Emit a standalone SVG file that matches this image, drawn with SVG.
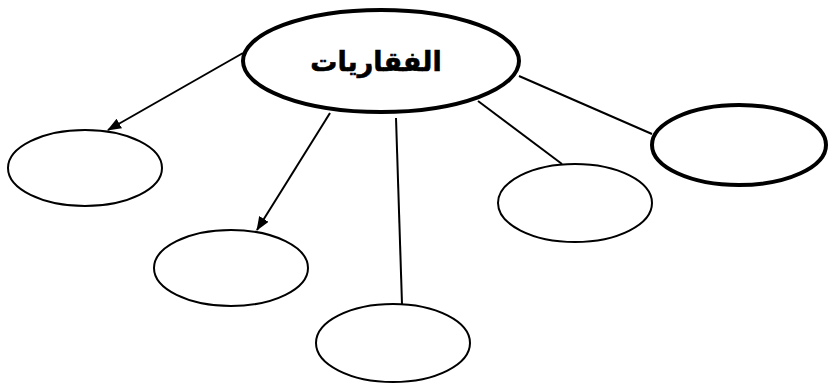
<svg xmlns="http://www.w3.org/2000/svg" width="829" height="383" viewBox="0 0 829 383">
<style>
.thin{fill:#fff;stroke:#000;stroke-width:2}
.thick{fill:#fff;stroke:#000;stroke-width:4}
.con{stroke:#000;stroke-width:2;fill:none}
.lbl{font-family:"DejaVu Sans","Noto Sans",sans-serif;font-weight:bold;font-size:27px;text-anchor:middle;stroke:#000;stroke-width:0.6}
</style>
<defs>
<marker id="arr" viewBox="0 0 14 11" refX="13" refY="5.5" markerWidth="14" markerHeight="11" markerUnits="userSpaceOnUse" orient="auto">
<path d="M0,0 L14,5.5 L0,11 Z" fill="#000"/>
</marker>
</defs>
<g id="connectors">
<line class="con" x1="243" y1="53" x2="108" y2="130" marker-end="url(#arr)"/>
<line class="con" x1="330" y1="113" x2="257" y2="230" marker-end="url(#arr)"/>
<line class="con" x1="396" y1="118" x2="402" y2="304"/>
<line class="con" x1="478" y1="101" x2="562" y2="164"/>
<line class="con" x1="519" y1="76" x2="652" y2="134"/>
</g>
<g id="main">
<ellipse class="thick" cx="381" cy="61" rx="138" ry="51"/>
<text class="lbl" x="376" y="71" direction="rtl">الفقاريات</text>
</g>
<g id="n1"><ellipse class="thin" cx="85" cy="168" rx="77" ry="38"/></g>
<g id="n2"><ellipse class="thin" cx="231" cy="268" rx="77" ry="38"/></g>
<g id="n3"><ellipse class="thin" cx="393" cy="343" rx="77" ry="39"/></g>
<g id="n4"><ellipse class="thin" cx="575" cy="203" rx="77" ry="39"/></g>
<g id="n5"><ellipse class="thick" cx="739" cy="145" rx="87" ry="40"/></g>
</svg>
